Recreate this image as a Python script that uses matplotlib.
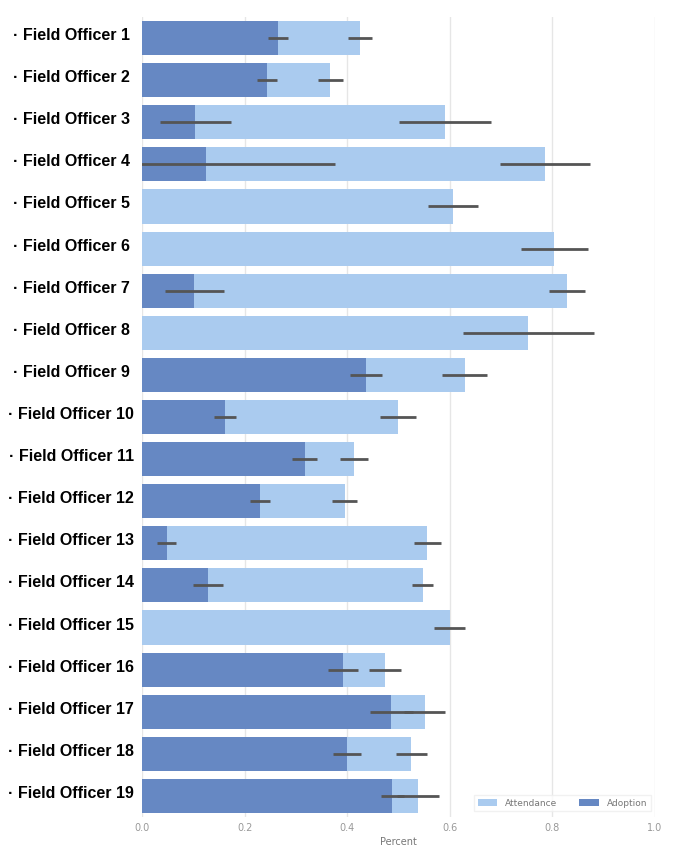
import matplotlib.pyplot as plt
import matplotlib.transforms as mtransforms
import numpy as np

officers = ['Field Officer %d' % i for i in range(1, 20)]
attendance = [0.425, 0.367, 0.590, 0.785, 0.606, 0.804, 0.829, 0.753, 0.629, 0.499,
              0.413, 0.395, 0.556, 0.547, 0.600, 0.474, 0.551, 0.525, 0.538]
attendance_err = [0.024, 0.024, 0.090, 0.088, 0.048, 0.065, 0.035, 0.128, 0.044, 0.036,
                  0.028, 0.024, 0.026, 0.020, 0.030, 0.031, 0.040, 0.030, 0.040]
adoption = [0.265, 0.244, 0.104, 0.125, 0.0, 0.0, 0.102, 0.0, 0.436, 0.162,
            0.317, 0.230, 0.048, 0.129, 0.0, 0.392, 0.486, 0.399, 0.488]
adoption_err = [0.020, 0.020, 0.069, 0.252, 0.0, 0.0, 0.058, 0.0, 0.031, 0.021,
                0.025, 0.019, 0.018, 0.029, 0.0, 0.029, 0.042, 0.027, 0.023]
xticks = [0.0, 0.2, 0.4, 0.6, 0.8, 1.0]

light = '#aacbef'
dark = '#6688c3'
errc = '#555555'

fig = plt.figure(figsize=(6.86, 8.6), dpi=100)
ax = fig.add_axes([142 / 686, 43 / 860, 513 / 686, 800 / 860])

y = np.arange(len(officers))
ax.barh(y, attendance, height=0.81, color=light, label='Attendance', zorder=2)
ax.barh(y, adoption, height=0.81, color=dark, label='Adoption', zorder=3)

att_err = np.array(attendance_err)
ad = np.array(adoption)
ad_err = np.array(adoption_err)
ax.errorbar(attendance, y, xerr=att_err, fmt='none', ecolor=errc, elinewidth=2, capsize=0, zorder=4)
m = ad_err > 0
ax.errorbar(ad[m], y[m], xerr=ad_err[m], fmt='none', ecolor=errc, elinewidth=2, capsize=0, zorder=4)

ax.set_xlim(0, 1.0)
ax.set_ylim(len(officers) - 0.5, -0.5)
ax.set_xticks(xticks)
ax.set_xticklabels(['%.1f' % v for v in xticks], fontsize=7, color='#999999')
ax.set_yticks(y)
ax.set_yticklabels(['\u00b7 ' + o for o in officers], fontsize=11.5, fontweight='bold',
                   family='Liberation Sans', ha='center')
ax.tick_params(axis='y', length=0, pad=51)
ax.tick_params(axis='x', length=0, pad=4)
ax.set_xlabel('Percent', fontsize=7, color='#777777', labelpad=3)

# labels sit a little above the bar centres
shift = mtransforms.ScaledTranslation(0, 4 / 100, fig.dpi_scale_trans)
for lab in ax.get_yticklabels():
    lab.set_transform(lab.get_transform() + shift)

for s in ax.spines.values():
    s.set_visible(False)
ax.grid(axis='x', color='#e6e6e6', lw=1, zorder=0)
ax.set_axisbelow(True)

leg = ax.legend(loc='lower right', ncol=2, fontsize=6.5, frameon=True, fancybox=False,
                edgecolor='#eeeeee', handlelength=2.2, handleheight=0.9,
                columnspacing=2.5, bbox_to_anchor=(0.995, 0.005), borderaxespad=0.2)
for t in leg.get_texts():
    t.set_color('#777777')

fig.savefig('out.png', dpi=100)
